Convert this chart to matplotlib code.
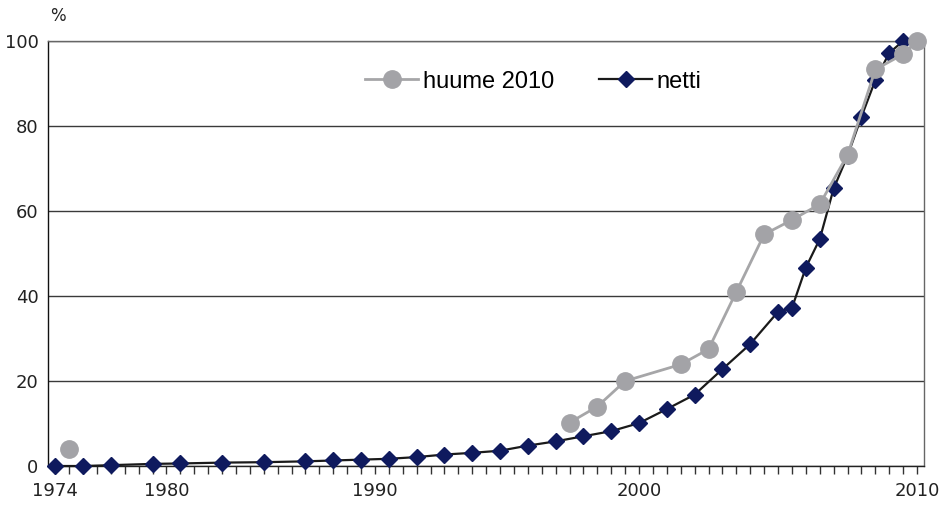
import matplotlib
matplotlib.use("Agg")
import matplotlib.pyplot as plt
import numpy as np

# category slots on the x axis (63 slots, labels only at a few of them)
n_slots = 63
tick_slots = [0, 8, 23, 42, 62]
tick_labels = ["1974", "1980", "1990", "2000", "2010"]

netti_slot = [0, 2, 4, 7, 9, 12, 15, 18, 20, 22, 24, 26, 28, 30, 32, 34, 36, 38,
              40, 42, 44, 46, 48, 50, 52, 53, 54, 55, 56, 57, 58, 59, 60, 61]
netti_val = [0, 0, 0.2, 0.5, 0.6, 0.8, 0.9, 1.1, 1.3, 1.5, 1.7, 2.1, 2.7, 3.1,
             3.6, 4.8, 5.8, 7.0, 8.2, 10.1, 13.4, 16.8, 22.8, 28.7, 36.3, 37.2,
             46.7, 53.4, 65.3, 73.0, 82.2, 90.8, 97.2, 100]

# None = empty cell, the line is broken there
huume_slot = [1, 2, 37, 39, 41, 45, 47, 49, 51, 53, 55, 57, 59, 61, 62]
huume_val = [3.9, None, 10.2, 14.0, 20.0, 23.9, 27.5, 41.0, 54.5, 57.9, 61.6, 73.2,
             93.3, 96.9, 100]

fig = plt.figure(figsize=(9.45, 5.05), dpi=100)
ax = fig.add_axes([0.0511, 0.0772, 0.9267, 0.8416])

hv = np.array([np.nan if v is None else v for v in huume_val])

ln_netti, = ax.plot(netti_slot, netti_val, color="#1a1a1a", lw=1.6,
                    marker="D", ms=8, mfc="#0f1a5e", mec="#0f1a5e",
                    clip_on=False, zorder=3, label="netti")
ln_huume, = ax.plot(huume_slot, hv, color="#a6a6a8", lw=2,
                    marker="o", ms=12.5, mfc="#a3a3a7", mec="#a3a3a7",
                    clip_on=False, zorder=4, label="huume 2010")

ax.set_xlim(-0.5, n_slots - 0.5)
ax.set_ylim(0, 100)

ax.set_xticks(range(n_slots))
lab = [""] * n_slots
for s, t in zip(tick_slots, tick_labels):
    lab[s] = t
ax.set_xticklabels(lab)
ax.tick_params(axis="x", direction="out", length=6, width=1, color="#333333",
               labelsize=13, pad=5.5, labelcolor="#222222")

ax.set_yticks([0, 20, 40, 60, 80, 100])
ax.tick_params(axis="y", length=0, labelsize=13, pad=7, labelcolor="#222222")
ax.yaxis.grid(True, color="#3a3a3a", lw=1)
ax.set_axisbelow(True)

ax.spines["left"].set_color("#111111")
ax.spines["bottom"].set_color("#222222")
ax.spines["top"].set_color("#666666")
ax.spines["right"].set_color("#666666")
for sp in ax.spines.values():
    sp.set_linewidth(1)

fig.text(0.061, 0.968, "%", fontsize=12, ha="center", va="center", color="#222222")

ax.legend(handles=[ln_huume, ln_netti], loc="center left",
          bbox_to_anchor=(365 / 945, 1 - 81.7 / 505), bbox_transform=fig.transFigure,
          ncol=2, frameon=False, borderpad=0, borderaxespad=0,
          handlelength=2.25, handletextpad=0.2, columnspacing=1.9,
          prop={"family": "Liberation Sans", "size": 17})

fig.savefig("out.png", dpi=100)
